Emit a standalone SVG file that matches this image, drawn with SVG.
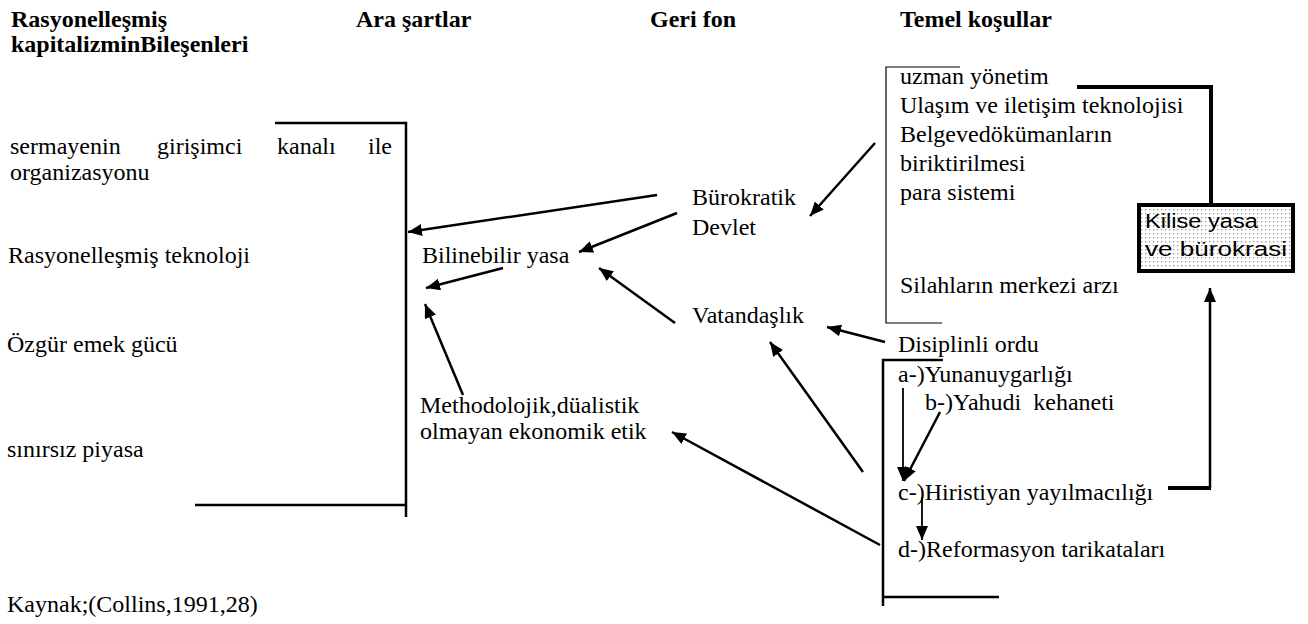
<svg xmlns="http://www.w3.org/2000/svg" width="1308" height="624" viewBox="0 0 1308 624">
<style>
text{font-family:"Liberation Serif","Times New Roman",serif;font-size:24px;fill:#000}
.h{font-weight:bold}
.sm{font-size:22px}
.s{font-family:"Liberation Sans",Arial,sans-serif;font-size:20px}
.ln{stroke:#000;fill:none;stroke-width:2.5}
.thin{stroke:#000;fill:none;stroke-width:1.2}
.thick{stroke:#000;fill:none;stroke-width:4}
.ar{stroke:#000;fill:none;stroke-width:2.5;marker-end:url(#ah)}
</style>
<defs>
<marker id="ah" markerUnits="userSpaceOnUse" markerWidth="16" markerHeight="12" refX="14" refY="6" orient="auto">
<path d="M0,0 L14,6 L0,12 z" fill="#000"/>
</marker>
<pattern id="dots" width="4" height="4" patternUnits="userSpaceOnUse">
<rect width="4" height="4" fill="#fff"/>
<rect x="1" y="1" width="1.3" height="1.3" fill="#9a9a9a"/>
</pattern>
</defs>
<rect width="1308" height="624" fill="#fff"/>

<g id="headers">
<text class="h" x="11" y="27">Rasyonelleşmiş</text>
<text class="h" x="11" y="52">kapitalizminBileşenleri</text>
<text class="h" x="356" y="27">Ara şartlar</text>
<text class="h" x="650" y="27">Geri fon</text>
<text class="h" x="900" y="27">Temel koşullar</text>
</g>

<g id="components">
<text x="10" y="154">sermayenin</text>
<text x="157" y="154">girişimci</text>
<text x="277" y="154">kanalı</text>
<text x="368" y="154">ile</text>
<text x="10" y="180">organizasyonu</text>
<text x="8" y="263">Rasyonelleşmiş teknoloji</text>
<text x="7" y="352">Özgür emek gücü</text>
<text x="7" y="457">sınırsız piyasa</text>
<path class="ln" d="M275,123 H406 V517 M195,505 H406"/>
</g>

<g id="n-bilinebilir"><text x="422" y="263">Bilinebilir yasa</text></g>
<g id="n-method">
<text x="420" y="413">Methodolojik,düalistik</text>
<text x="420" y="439">olmayan ekonomik etik</text>
</g>
<g id="n-burokratik">
<text x="692" y="205">Bürokratik</text>
<text x="692" y="235">Devlet</text>
</g>
<g id="n-vatandaslik"><text x="692" y="323">Vatandaşlık</text></g>

<g id="n-temel-ust">
<path class="thin" d="M960,67 H886 V323 H942"/>
<text x="900" y="84">uzman yönetim</text>
<text x="900" y="113">Ulaşım ve iletişim teknolojisi</text>
<text x="900" y="142">Belgevedökümanların</text>
<text x="900" y="171">biriktirilmesi</text>
<text x="900" y="200">para sistemi</text>
<text x="900" y="293">Silahların merkezi arzı</text>
</g>

<g id="n-disiplinli"><text x="898" y="352">Disiplinli ordu</text></g>

<g id="n-temel-alt">
<path class="ln" d="M943,360 H883 V606 M883,597 H999"/>
<text x="898" y="382">a-)Yunanuygarlığı</text>
<text x="925" y="410" xml:space="preserve" style="white-space:pre">b-)Yahudi  kehaneti</text>
<text x="898" y="500">c-)Hiristiyan yayılmacılığı</text>
<text x="898" y="557">d-)Reformasyon tarikataları</text>
</g>

<g id="n-kilise">
<rect x="1139" y="205" width="154" height="66" fill="url(#dots)" stroke="#000" stroke-width="4"/>
<text class="s" x="1145" y="228" textLength="113" lengthAdjust="spacingAndGlyphs">Kilise yasa</text>
<text class="s" x="1145" y="256" textLength="142" lengthAdjust="spacingAndGlyphs">ve bürokrasi</text>
</g>

<g id="connectors">
<path class="thick" d="M1077,87 H1211 V204"/>
<path class="thick" d="M1168,488 H1211"/>
<path class="ar" d="M1210,488 V288"/>
<path class="ar" d="M875,143 L810,216"/>
<path class="ar" d="M657,195 L408,232"/>
<path class="ar" d="M677,213 L579,252"/>
<path class="ar" d="M675,323 L599,268"/>
<path class="ar" d="M503,268 L426,288"/>
<path class="ar" d="M463,395 L425,304"/>
<path class="ar" d="M885,342 L827,327"/>
<path class="ar" d="M863,472 L770,342"/>
<path class="ar" d="M880,545 L672,432"/>
<path class="ar" d="M903,388 V481" style="stroke-width:1.8"/>
<path class="ar" d="M940,412 L904,481"/>
<path class="ar" d="M922,497 V540" style="stroke-width:1.8"/>
</g>

<g id="source"><text x="7" y="612">Kaynak;(Collins,1991,28)</text></g>
</svg>
